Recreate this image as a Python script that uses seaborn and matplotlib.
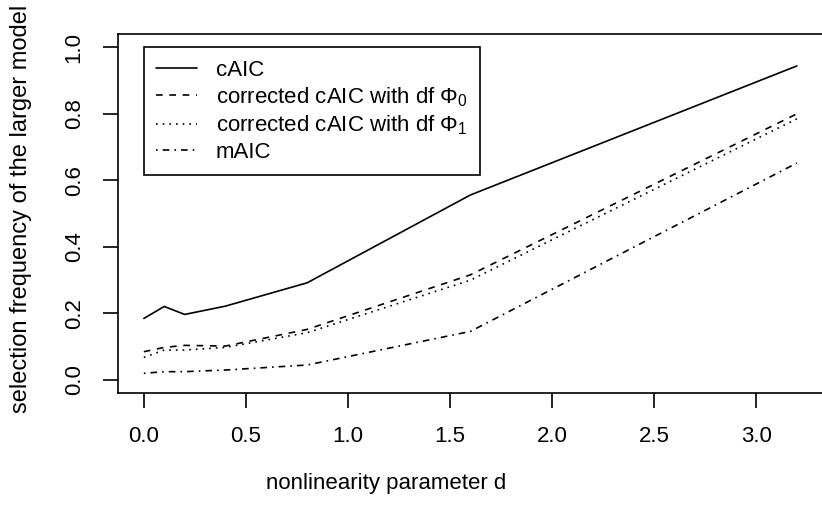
import numpy as np
import pandas as pd
import matplotlib
matplotlib.use('Agg')
import matplotlib.pyplot as plt
import seaborn as sns

# values
d = [0.0, 0.1, 0.2, 0.4, 0.8, 1.6, 3.2]
caic = [0.185, 0.221, 0.197, 0.222, 0.292, 0.556, 0.944]
corr_phi0 = [0.085, 0.098, 0.104, 0.102, 0.152, 0.316, 0.800]
corr_phi1 = [0.068, 0.090, 0.090, 0.098, 0.142, 0.300, 0.785]
maic = [0.020, 0.025, 0.025, 0.030, 0.045, 0.146, 0.652]

methods = ['cAIC', 'corr0', 'corr1', 'mAIC']
legend_labels = ['cAIC',
                 r'corrected cAIC with df $\Phi_0$',
                 r'corrected cAIC with df $\Phi_1$',
                 'mAIC']
x_ticks = [0.0, 0.5, 1.0, 1.5, 2.0, 2.5, 3.0]
y_ticks = [0.0, 0.2, 0.4, 0.6, 0.8, 1.0]

df = pd.DataFrame({
    'd': d * 4,
    'freq': caic + corr_phi0 + corr_phi1 + maic,
    'method': np.repeat(methods, len(d)),
})

sns.set_theme(style='white', rc={
    'axes.edgecolor': 'black', 'xtick.color': 'black', 'ytick.color': 'black',
    'text.color': 'black', 'axes.labelcolor': 'black',
})
plt.rcParams['font.family'] = ['Liberation Sans', 'DejaVu Sans']
plt.rcParams['mathtext.fontset'] = 'custom'
plt.rcParams['mathtext.rm'] = 'Liberation Sans'
plt.rcParams['mathtext.it'] = 'Liberation Sans:italic'

fig, ax = plt.subplots(figsize=(8.22, 5.08), dpi=100)
ax.set_position([0.1432, 0.2258, 0.858, 0.7073])

# R style line types: solid, dashed, dotted, dotdash
dash_map = {'cAIC': '', 'corr0': (4, 4), 'corr1': (1, 3), 'mAIC': (1, 3, 4, 3)}
sns.lineplot(data=df, x='d', y='freq', style='method', style_order=methods,
             dashes=dash_map, color='black', linewidth=1.2, estimator=None,
             errorbar=None, legend=False, ax=ax)

ax.set_xlim(-0.128, 3.328)
ax.set_ylim(-0.04, 1.04)
ax.set_xticks(x_ticks)
ax.set_xticklabels([f'{v:.1f}' for v in x_ticks])
ax.set_yticks(y_ticks)
ax.set_yticklabels([f'{v:.1f}' for v in y_ticks])
ax.tick_params(axis='both', direction='out', length=10.8, width=1.2,
               pad=13, labelsize=16, bottom=True, left=True)
ax.tick_params(axis='y', labelrotation=90)
for lab in ax.get_yticklabels():
    lab.set_va('center')
for sp in ax.spines.values():
    sp.set_linewidth(1.2)
    sp.set_color('black')

ax.set_xlabel('nonlinearity parameter d', fontsize=16)
ax.set_ylabel('selection frequency of the larger model', fontsize=17)
ax.xaxis.set_label_coords(0.380, -0.222)
ax.yaxis.set_label_coords(-0.122, 0.514)

leg = ax.legend(ax.get_lines()[:4], legend_labels, loc='upper left',
                bbox_to_anchor=(0.0, 1.0), bbox_transform=ax.transData,
                borderaxespad=0, fontsize=16, frameon=True, fancybox=False,
                framealpha=1, edgecolor='black', handlelength=1.85,
                handletextpad=0.85, borderpad=0.55, labelspacing=0.21)
leg.get_frame().set_linewidth(1.2)

plt.savefig('out.png', dpi=100)
